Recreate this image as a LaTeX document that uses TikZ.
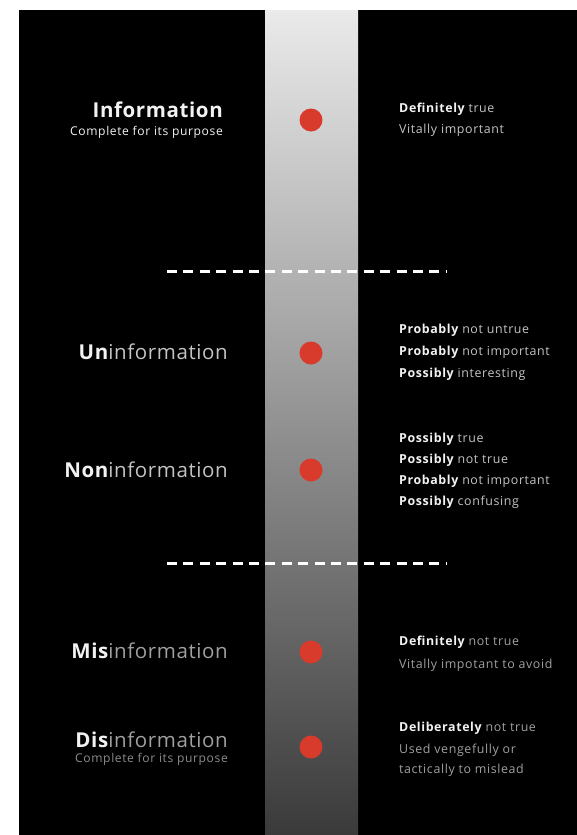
\documentclass[tikz,border=0pt]{standalone}
\usepackage{fontspec}
\setmainfont{Open Sans}
\newfontfamily\titlefont[LetterSpace=3]{Open Sans}
\newfontfamily\smallfont[LetterSpace=5]{Open Sans}
\definecolor{dotred}{HTML}{D83A2C}
\definecolor{bandtop}{HTML}{EAEAEA}
\definecolor{bandmid}{HTML}{A2A2A6}
\definecolor{bandbot}{HTML}{3A3A3A}
\definecolor{txtA}{HTML}{F2F2F2}
\definecolor{txtB}{HTML}{C4C4C4}
\definecolor{txtC}{HTML}{A0A0A0}
\definecolor{txtD}{HTML}{8C8C8C}
\tikzset{
  dot/.style={circle, fill=dotred, inner sep=0pt, minimum size=23pt},
  titlel/.style={anchor=base east, inner sep=0pt, font=\titlefont\fontsize{20.5}{24}\selectfont},
  subl/.style={anchor=base east, inner sep=0pt, font=\smallfont\fontsize{12.1}{14}\selectfont},
  rtext/.style={anchor=base west, inner sep=0pt, font=\smallfont\fontsize{12.4}{14}\selectfont},
  sepline/.style={draw=white, line width=3pt, dash pattern=on 10pt off 6.4pt}
}
\begin{document}
\begin{tikzpicture}[x=1pt,y=-1pt]
\useasboundingbox (0,0) rectangle (577,835);
\fill[white] (0,0) rectangle (577,835);
\fill[black] (19,10) rectangle (577,835);
\shade[top color=bandtop, middle color=bandmid, bottom color=bandbot] (265,10) rectangle (358,835);

% separators
\coordinate (s1a) at (167,271);
\coordinate (s1b) at (447,271);
\coordinate (s2a) at (167,563);
\coordinate (s2b) at (447,563);
\draw[sepline] (s1a) -- (s1b);
\draw[sepline] (s2a) -- (s2b);

% dots
\node[dot] (d1) at (311,120) {};
\node[dot] (d2) at (311,353) {};
\node[dot] (d3) at (311,470) {};
\node[dot] (d4) at (311,652) {};
\node[dot] (d5) at (311,747) {};

% left titles
\node[titlel, text=txtA] (t1) at (223,117) {\bfseries Information};
\node[subl, text=txtA] (u1) at (223,135) {Complete for its purpose};
\node[titlel] (t2) at (228,359) {\textcolor{txtA}{\bfseries Un}\textcolor{txtB}{information}};
\node[titlel] (t3) at (228,477) {\textcolor{txtA}{\bfseries Non}\textcolor{txtB}{information}};
\node[titlel] (t4) at (228,658) {\textcolor{txtA}{\bfseries Mis}\textcolor{txtC}{information}};
\node[titlel] (t5) at (228,747) {\textcolor{txtA}{\bfseries Dis}\textcolor{txtC}{information}};
\node[subl, text=txtD] (u5) at (228,762) {Complete for its purpose};

% right texts
\node[rtext] (r11) at (399,112) {\textcolor{txtA}{\bfseries Definitely} \textcolor{txtB}{true}};
\node[rtext, text=txtB] (r12) at (399,133) {Vitally important};

\node[rtext] (r21) at (399,333) {\textcolor{txtA}{\bfseries Probably} \textcolor{txtB}{not untrue}};
\node[rtext] (r22) at (399,355) {\textcolor{txtA}{\bfseries Probably} \textcolor{txtB}{not important}};
\node[rtext] (r23) at (399,377) {\textcolor{txtA}{\bfseries Possibly} \textcolor{txtB}{interesting}};

\node[rtext] (r31) at (399,442) {\textcolor{txtA}{\bfseries Possibly} \textcolor{txtB}{true}};
\node[rtext] (r32) at (399,463) {\textcolor{txtA}{\bfseries Possibly} \textcolor{txtB}{not true}};
\node[rtext] (r33) at (399,484) {\textcolor{txtA}{\bfseries Probably} \textcolor{txtB}{not important}};
\node[rtext] (r34) at (399,505) {\textcolor{txtA}{\bfseries Possibly} \textcolor{txtB}{confusing}};

\node[rtext] (r41) at (399,645) {\textcolor{txtA}{\bfseries Definitely} \textcolor{txtC}{not true}};
\node[rtext, text=txtC] (r42) at (399,668) {Vitally impotant to avoid};

\node[rtext] (r51) at (399,731) {\textcolor{txtA}{\bfseries Deliberately} \textcolor{txtC}{not true}};
\node[rtext, text=txtC] (r52) at (399,753) {Used vengefully or};
\node[rtext, text=txtC] (r53) at (399,773) {tactically to mislead};
\end{tikzpicture}
\end{document}
